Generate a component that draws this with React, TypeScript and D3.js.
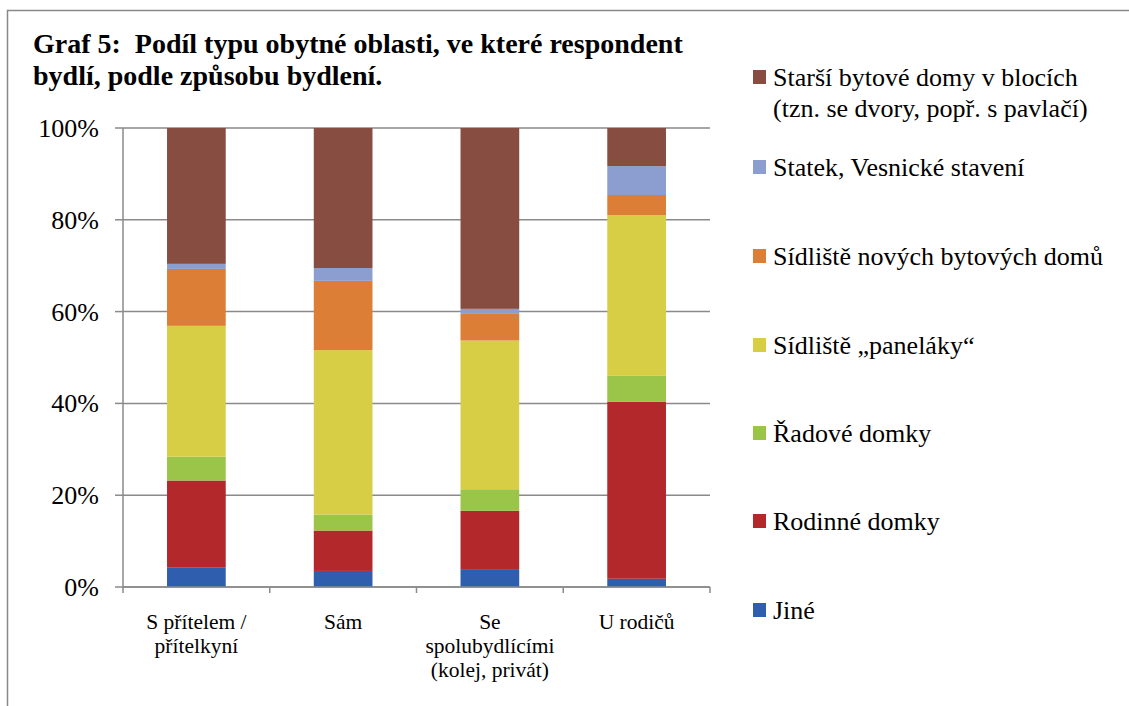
import React from "react";
import * as d3 from "d3";

const categories: string[][] = [
  ["S přítelem /", "přítelkyní"],
  ["Sám"],
  ["Se", "spolubydlícími", "(kolej, privát)"],
  ["U rodičů"],
];

const seriesNames: string[][] = [
  ["Jiné"],
  ["Rodinné domky"],
  ["Řadové domky"],
  ["Sídliště „paneláky“"],
  ["Sídliště nových bytových domů"],
  ["Statek, Vesnické stavení"],
  ["Starší bytové domy v blocích", "(tzn. se dvory, popř. s pavlačí)"],
];

const seriesColors = ["#2F5EAE", "#B2282B", "#9AC548", "#D8CE45", "#DC7E35", "#8C9ECF", "#874D41"];

// values in percent, per series, per category
const jine = [4.3, 3.5, 3.9, 1.8];
const rodinne = [18.9, 8.8, 12.7, 38.6];
const radove = [5.2, 3.5, 4.7, 5.6];
const panelaky = [28.5, 35.8, 32.4, 35.0];
const noveDomy = [12.4, 15.1, 5.8, 4.4];
const statek = [1.1, 2.8, 1.1, 6.3];
const starsi = [29.6, 30.5, 39.4, 8.3];

const seriesValues = [jine, rodinne, radove, panelaky, noveDomy, statek, starsi];

const yTicks = [0, 20, 40, 60, 80, 100];

const titleLines = [
  "Graf 5:  Podíl typu obytné oblasti, ve které respondent",
  "bydlí, podle způsobu bydlení.",
];

const FONT = "Liberation Serif";

export default function App() {
  const W = 1129;
  const H = 706;
  const plot = { left: 123, right: 710, top: 128, bottom: 587 };

  const x = d3
    .scaleBand<number>()
    .domain(d3.range(categories.length))
    .range([plot.left, plot.right])
    .paddingInner(0.6)
    .paddingOuter(0.3);
  const xOuter = d3
    .scaleBand<number>()
    .domain(d3.range(categories.length))
    .range([plot.left, plot.right]);
  const y = d3.scaleLinear().domain([0, 100]).range([plot.bottom, plot.top]);

  const rows = categories.map((_, ci) => {
    const r: Record<string, number> = {};
    seriesValues.forEach((s, si) => (r["s" + si] = s[ci]));
    return r;
  });
  const keys = seriesValues.map((_, si) => "s" + si);
  const stacked = d3.stack<Record<string, number>>().keys(keys)(rows);

  const legendItems = [...seriesNames.keys()].reverse();
  const legendY = [77, 167, 256, 345, 433, 521, 610];

  const catBounds = [...d3.range(categories.length).map((i) => xOuter(i)!), plot.right];

  return (
    <svg width={W} height={H} style={{ position: "absolute", left: 0, top: 0 }}>
      <rect x={7.5} y={10.5} width={W + 20} height={H + 20} fill="#fff" stroke="#888" strokeWidth={1.5} />
      {titleLines.map((t, i) => (
        <text key={i} x={33} y={53 + i * 32} fontSize={28} fontWeight="bold" style={{ fontFamily: FONT, whiteSpace: "pre" }}>
          {t}
        </text>
      ))}
      {yTicks.map((t) => (
        <line key={t} x1={plot.left} x2={plot.right} y1={y(t)} y2={y(t)} stroke="#8a8a8a" strokeWidth={1.5} />
      ))}
      {stacked.map((layer, si) => (
        <g key={si} fill={seriesColors[si]}>
          {layer.map((d, ci) => (
            <rect key={ci} x={x(ci)} width={x.bandwidth()} y={y(d[1])} height={y(d[0]) - y(d[1])} />
          ))}
        </g>
      ))}
      <line x1={plot.left} x2={plot.left} y1={plot.top} y2={plot.bottom} stroke="#8a8a8a" strokeWidth={1.5} />
      <line x1={plot.left} x2={plot.right} y1={plot.bottom} y2={plot.bottom} stroke="#8a8a8a" strokeWidth={1.5} />
      {yTicks.map((t) => (
        <g key={t}>
          <line x1={115} x2={plot.left} y1={y(t)} y2={y(t)} stroke="#8a8a8a" strokeWidth={1.5} />
          <text x={99} y={y(t) + 9} textAnchor="end" fontSize={26} style={{ fontFamily: FONT }}>
            {t}%
          </text>
        </g>
      ))}
      {catBounds.map((b, i) => (
        <line key={i} x1={b} x2={b} y1={plot.bottom} y2={plot.bottom + 6} stroke="#8a8a8a" strokeWidth={1.5} />
      ))}
      {categories.map((lines, ci) =>
        lines.map((l, li) => (
          <text
            key={ci + "-" + li}
            x={x(ci)! + x.bandwidth() / 2}
            y={629 + li * 24}
            textAnchor="middle"
            fontSize={21.5}
            style={{ fontFamily: FONT }}
          >
            {l}
          </text>
        ))
      )}
      {legendItems.map((si, i) => (
        <g key={si}>
          <rect x={753} y={legendY[i] - 7} width={13} height={14} fill={seriesColors[si]} />
          {seriesNames[si].map((l, li) => (
            <text key={li} x={773} y={legendY[i] + 9 + li * 31} fontSize={26} style={{ fontFamily: FONT }}>
              {l}
            </text>
          ))}
        </g>
      ))}
    </svg>
  );
}
